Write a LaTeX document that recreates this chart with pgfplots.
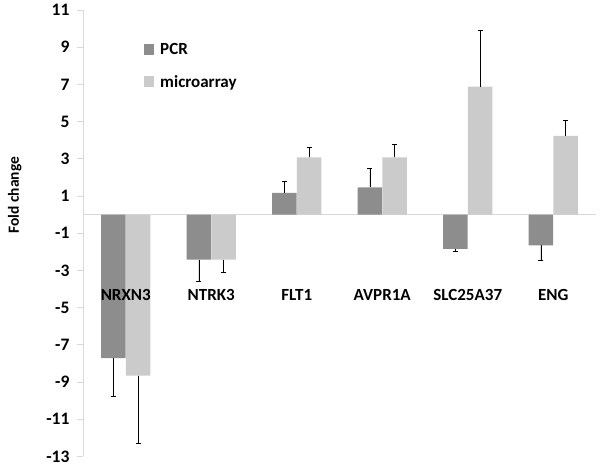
\documentclass[border=0pt]{standalone}
\usepackage{pgfplots}
\pgfplotsset{compat=1.18}
\usepackage{fontspec}
\setmainfont{Carlito}
\definecolor{pcr}{RGB}{141,141,141}
\definecolor{micro}{RGB}{203,203,203}
\definecolor{axgray}{RGB}{217,217,217}
\begin{document}
\begin{tikzpicture}
\begin{axis}[
  name=ax,
  scale only axis,
  width=513pt, height=446.4pt,
  xmin=-0.5, xmax=5.5,
  ymin=-13, ymax=11,
  axis x line=none,
  axis y line*=left,
  y axis line style={axgray, line width=0.8pt},
  ytick={-13,-11,...,11},
  tick align=outside,
  major tick length=6pt,
  ytick style={axgray, line width=0.8pt},
  yticklabel style={font=\fontsize{17.5}{20}\selectfont\bfseries, xshift=-4pt},
  /pgf/number format/assume math mode=true,
  xtick=\empty,
  ylabel={Fold change},
  ylabel style={font=\fontsize{15.5}{18}\selectfont\bfseries, at={(ticklabel cs:0.585)}, yshift=12pt},
  extra y ticks={0},
  extra y tick labels={},
  extra y tick style={grid=major, major grid style={axgray, line width=0.8pt}, major tick length=0pt},
  clip=false,
  legend style={at={(0.119,0.93)}, anchor=north west, draw=none, fill=none,
    font=\fontsize{17}{20}\selectfont\bfseries, row sep=15pt, inner sep=0pt},
  legend cell align=left,
  legend image code/.code={\fill[#1] (0pt,-5.5pt) rectangle (10pt,5.5pt); \path (14pt,0pt);},
  error bars/error bar style={black, line width=0.8pt},
  error bars/error mark options={rotate=90, mark size=2.5pt, black, line width=0.8pt},
]
% PCR negative
\addplot[ybar, bar width=24.5pt, bar shift=0pt, fill=pcr, draw=none,
  error bars/.cd, y dir=minus, y explicit]
  table[x=x, y=y, y error=e] {
x y e
-0.1433 -7.72 2.04
0.8567 -2.42 1.18
3.8567 -1.84 0.15
4.8567 -1.65 0.82
};
\addlegendentry{PCR}
% microarray negative
\addplot[ybar, bar width=24.5pt, bar shift=0pt, fill=micro, draw=none,
  error bars/.cd, y dir=minus, y explicit]
  table[x=x, y=y, y error=e] {
x y e
0.1433 -8.66 3.65
1.1433 -2.42 0.70
};
\addlegendentry{microarray}
% PCR positive
\addplot[ybar, bar width=24.5pt, bar shift=0pt, fill=pcr, draw=none, forget plot,
  error bars/.cd, y dir=plus, y explicit]
  table[x=x, y=y, y error=e] {
x y e
1.8567 1.17 0.62
2.8567 1.47 1.02
};
% microarray positive
\addplot[ybar, bar width=24.5pt, bar shift=0pt, fill=micro, draw=none, forget plot,
  error bars/.cd, y dir=plus, y explicit]
  table[x=x, y=y, y error=e] {
x y e
2.1433 3.08 0.51
3.1433 3.08 0.72
4.1433 6.88 3.00
5.1433 4.23 0.86
};
\foreach \i/\lab in {0/NRXN3,1/NTRK3,2/FLT1,3/AVPR1A,4/SLC25A37,5/ENG}{
  \edef\tmp{\noexpand\node[font=\noexpand\fontsize{17}{20}\noexpand\selectfont\noexpand\bfseries, anchor=center] at (axis cs:\i,-4.3) {\lab};}
  \tmp
}
\end{axis}
\path ([xshift=-83pt,yshift=-16.6pt]ax.south west) rectangle ([xshift=4pt,yshift=10pt]ax.north east);
\end{tikzpicture}
\end{document}
